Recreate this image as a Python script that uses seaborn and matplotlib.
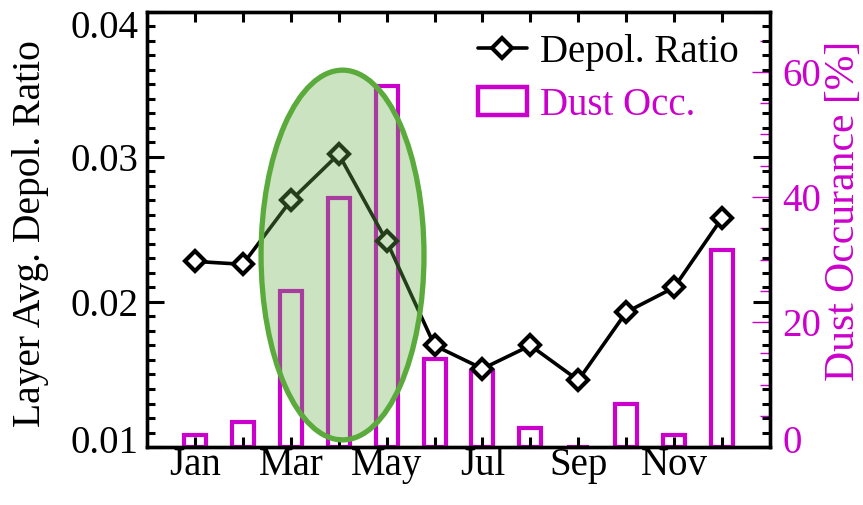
import numpy as np
import pandas as pd
import matplotlib
matplotlib.use("Agg")
import matplotlib.pyplot as plt
import matplotlib.transforms as mtransforms
from matplotlib.patches import Ellipse, Rectangle
from matplotlib.lines import Line2D
from matplotlib.ticker import MultipleLocator, FormatStrFormatter
import seaborn as sns

# ---- data ----
month_num = [1, 2, 3, 4, 5, 6, 7, 8, 9, 10, 11, 12]
month_ticklabels = ["Jan", "", "Mar", "", "May", "", "Jul", "", "Sep", "", "Nov", ""]
depol_ratio = [0.0228, 0.0226, 0.0270, 0.0302, 0.0242, 0.0170,
               0.0154, 0.0170, 0.0146, 0.0193, 0.0210, 0.0258]
dust_occ = [1.9, 4.0, 25.0, 39.8, 57.8, 14.1, 12.2, 3.0, 0.0, 6.9, 1.9, 31.5]

MAG = "#cc00cc"
sns.set_style("white")
plt.rcParams["font.family"] = ["Liberation Serif", "DejaVu Serif"]
plt.rcParams.update({"text.color": "black", "axes.labelcolor": "black",
                     "xtick.color": "black", "ytick.color": "black"})
FS = 28

fig = plt.figure(figsize=(8.63, 5.05), dpi=100)
ax = fig.add_axes([147/863, 1-447/505, 623/863, 435/505])
ax2 = ax.twinx()

df = pd.DataFrame({"month": month_num, "depol": depol_ratio, "dust": dust_occ})

# bars on twin (drawn underneath)
sns.barplot(data=df, x="month", y="dust", native_scale=True, fill=False,
            color=MAG, width=0.46, linewidth=3, ax=ax2, errorbar=None)
for p in ax2.patches:
    p.set_edgecolor(MAG)
    p.set_clip_on(False)

# line on primary axis, placed above twin
ax.set_zorder(ax2.get_zorder() + 1)
ax.patch.set_visible(False)
sns.lineplot(data=df, x="month", y="depol", ax=ax, color="black", lw=2.6,
             marker="D", markersize=10, markerfacecolor="white",
             markeredgecolor="black", markeredgewidth=3)

ell = Ellipse((4.08, 0.02324), 3.4, 0.0255, facecolor="#6ab04c", alpha=0.35,
              edgecolor="none", zorder=5)
ax.add_patch(ell)
ell2 = Ellipse((4.08, 0.02324), 3.4, 0.0255, facecolor="none",
               edgecolor="#5aab3c", lw=3.8, zorder=6)
ax.add_patch(ell2)

ax.set_xlim(0, 13)
ax.set_ylim(0.01, 0.04)
ax2.set_ylim(0, 69.6)

# ticks
ax.set_xticks(month_num)
ax.set_xticklabels(month_ticklabels)
ax.yaxis.set_major_locator(MultipleLocator(0.01))
ax.yaxis.set_minor_locator(MultipleLocator(0.001))
ax.yaxis.set_major_formatter(FormatStrFormatter("%.2f"))
ax.tick_params(axis="y", which="major", direction="in", length=12, width=2.2,
               left=True, right=True, labelsize=FS, pad=6, colors="black")
ax.tick_params(axis="y", which="minor", direction="in", length=6, width=2.2,
               left=True, right=True, colors="black")
ax.tick_params(axis="x", which="major", direction="in", length=7, width=2.2,
               top=True, bottom=True, labelsize=FS, pad=0, colors="black")

ax2.yaxis.set_major_locator(MultipleLocator(20))
ax2.yaxis.set_minor_locator(MultipleLocator(5))
ax2.set_xticks(month_num)
ax2.tick_params(axis="y", which="major", direction="in", length=13, width=1,
                color=MAG, labelcolor=MAG, labelsize=FS, pad=9)
ax2.tick_params(axis="y", which="minor", direction="in", length=7, width=1,
                color=MAG)
ax2.set_xlabel("")

for a in (ax, ax2):
    for s in a.spines.values():
        s.set_linewidth(2.4)
        s.set_color("black")
        s.set_visible(True)

ax.set_xlabel("")
ax.set_ylabel("Layer Avg. Depol. Ratio", fontsize=28.5, color="black")
ax.yaxis.set_label_coords(-0.158, 0.49)
ax2.set_ylabel("Dust Occurance [%]", fontsize=30, color=MAG)
ax2.yaxis.set_label_coords(1.087, 0.543)

handles = [Line2D([], [], color="black", lw=2.6, marker="D", markersize=10,
                  markerfacecolor="white", markeredgewidth=3),
           Rectangle((0, 0), 1, 1, facecolor="white", edgecolor=MAG, lw=3.2)]
leg = ax.legend(handles, ["Depol. Ratio", "Dust Occ."], loc="upper right",
                bbox_to_anchor=(0.975, 0.985), frameon=False, fontsize=FS,
                handlelength=1.25, handletextpad=0.35, labelspacing=0.4,
                borderaxespad=0)
leg.get_texts()[0].set_color("black")
leg.get_texts()[1].set_color(MAG)
leg.set_zorder(10)

# keep edge tick labels inside the figure, as in the reference
fig.canvas.draw()
for t in ax.get_yticklabels():
    if t.get_text() == "0.04":
        t.set_transform(t.get_transform() +
                        mtransforms.ScaledTranslation(0, -9/72, fig.dpi_scale_trans))
    if t.get_text() == "0.01":
        t.set_transform(t.get_transform() +
                        mtransforms.ScaledTranslation(0, 6/72, fig.dpi_scale_trans))
for t in ax2.get_yticklabels():
    if t.get_text() == "0":
        t.set_transform(t.get_transform() +
                        mtransforms.ScaledTranslation(0, 6/72, fig.dpi_scale_trans))

fig.savefig("out.png", dpi=100)
